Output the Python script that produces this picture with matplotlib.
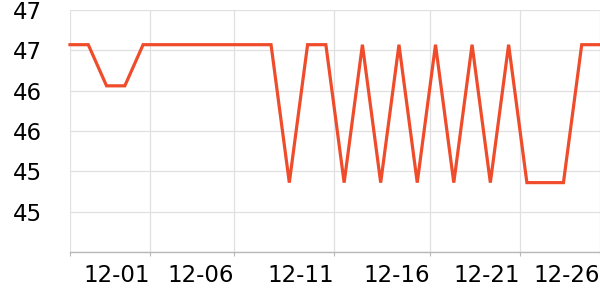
import matplotlib
matplotlib.use("Agg")
import matplotlib.pyplot as plt
from matplotlib.ticker import FuncFormatter, FixedLocator

dates = ["11-27", "11-28", "11-29", "11-30", "12-01", "12-02", "12-03", "12-04",
         "12-05", "12-06", "12-07", "12-08", "12-09", "12-10", "12-11", "12-12",
         "12-13", "12-14", "12-15", "12-16", "12-17", "12-18", "12-19", "12-20",
         "12-21", "12-22", "12-23", "12-24", "12-25", "12-26"]
values = [47.07, 47.07, 46.56, 46.56, 47.07, 47.07, 47.07, 47.07,
          47.07, 47.07, 47.07, 47.07, 45.36, 47.07, 47.07, 45.36,
          47.07, 45.36, 47.07, 45.36, 47.07, 45.36, 47.07, 45.36,
          47.07, 45.36, 45.36, 45.36, 47.07, 47.07]
tick_labels = ["", "12-01", "12-06", "12-11", "12-16", "12-21", "12-26"]
tick_pos = [0, 4.38, 8.97, 14.44, 19.69, 24.62, 29]
y_ticks = [44.5, 45.0, 45.5, 46.0, 46.5, 47.0, 47.5]

fig = plt.figure(figsize=(6, 3), dpi=100)
ax = fig.add_axes([70/600, 1-252/300, 530/600, 242/300])
x = list(range(len(values)))
ax.plot(x, values, color="#ef4c2b", lw=2.3, solid_joinstyle="miter", zorder=3, clip_on=False)
ax.set_xlim(0, len(values)-1)
ax.set_ylim(44.5, 47.5)
ax.yaxis.set_major_locator(FixedLocator(y_ticks))
ax.yaxis.set_major_formatter(FuncFormatter(lambda v, p: "" if v < 44.9 else str(int(v))))
ax.set_xticks(tick_pos)
ax.set_xticklabels(tick_labels, ha="right")
for s in ["top", "right", "left"]:
    ax.spines[s].set_visible(False)
ax.spines["bottom"].set_color("#b8b8b8")
ax.spines["bottom"].set_linewidth(1.0)
ax.grid(True, color="#e0e0e0", lw=0.9)
ax.set_axisbelow(True)
ax.tick_params(axis="y", length=0, pad=20, labelsize=16.5)
ax.tick_params(axis="x", length=3, color="#b8b8b8", pad=6, labelsize=16.5)
fig.savefig("out.png", dpi=100)
